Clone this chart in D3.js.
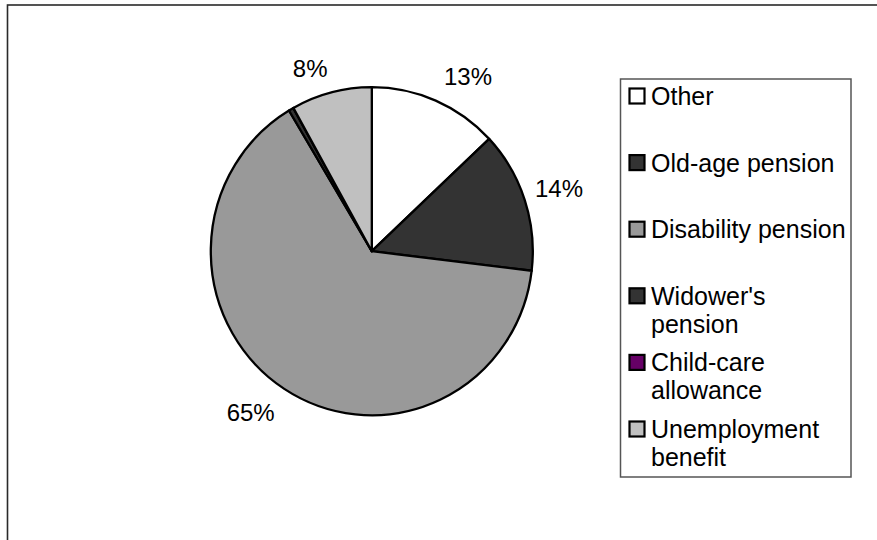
<!DOCTYPE html>
<html>
<head>
<meta charset="utf-8">
<script src="https://cdn.jsdelivr.net/npm/d3@7/dist/d3.min.js"></script>
<style>
  html, body { margin: 0; padding: 0; background: #fff; }
  svg { display: block; font-family: "Liberation Sans", Arial, sans-serif; }
</style>
</head>
<body>
<svg id="chart" width="877" height="540"></svg>
<script>
// Benefit categories, their shares (%) and slice fills
const categories = ["Other", "Old-age pension", "Disability pension", "Widower's pension", "Child-care allowance", "Unemployment benefit"];
const legendLines = [["Other"], ["Old-age pension"], ["Disability pension"], ["Widower's", "pension"], ["Child-care", "allowance"], ["Unemployment", "benefit"]];
const shares = [13.0, 13.9, 64.5, 0.5, 0.0, 8.1];
const fills = ["#ffffff", "#333333", "#999999", "#333333", "#660066", "#c0c0c0"];
// Percent labels shown next to the slices (empty = no label)
const labelText = ["13%", "14%", "65%", "", "", "8%"];

const svg = d3.select("#chart");
const W = 877, H = 540;

// chart area frame (runs off the right and bottom edges)
svg.append("rect")
  .attr("x", 7.5).attr("y", 5)
  .attr("width", W + 20).attr("height", H + 20)
  .attr("fill", "#fff")
  .attr("stroke", "#2a2a2a").attr("stroke-width", 1.6);

const cx = 371.8, cy = 251.2, r = 161;
const yStretch = 1.019;

const data = categories.map((c, i) => ({ name: c, value: shares[i], fill: fills[i], label: labelText[i], lines: legendLines[i] }));

const pie = d3.pie().value(d => d.value).sort(null);
const arcs = pie(data);
const arc = d3.arc().innerRadius(0).outerRadius(r);

const g = svg.append("g").attr("transform", `translate(${cx},${cy}) scale(1,${yStretch})`);
g.selectAll("path.slice")
  .data(arcs)
  .join("path")
  .attr("class", "slice")
  .attr("d", arc)
  .attr("fill", d => d.data.fill)
  .attr("stroke", "#000")
  .attr("stroke-width", 2.3)
  .attr("stroke-linejoin", "round");

// outside-end percent labels
const labelR = 197;
const labelNudge = { "Other": [18, 10], "Old-age pension": [0, 0], "Disability pension": [-14, -7], "Unemployment benefit": [-12, 12] };
const labelArc = d3.arc().innerRadius(labelR).outerRadius(labelR);
svg.append("g").selectAll("text.pct")
  .data(arcs.filter(d => d.data.label))
  .join("text")
  .attr("class", "pct")
  .attr("x", d => cx + labelArc.centroid(d)[0] + (labelNudge[d.data.name] || [0, 0])[0])
  .attr("y", d => cy + labelArc.centroid(d)[1] * yStretch + (labelNudge[d.data.name] || [0, 0])[1])
  .attr("text-anchor", "middle")
  .attr("dominant-baseline", "central")
  .attr("font-size", 24)
  .attr("fill", "#000")
  .text(d => d.data.label);

// legend
const lg = { x: 620.5, y: 79, w: 230.5, h: 398 };
svg.append("rect")
  .attr("x", lg.x).attr("y", lg.y)
  .attr("width", lg.w).attr("height", lg.h)
  .attr("fill", "#fff")
  .attr("stroke", "#555").attr("stroke-width", 1.5);

const rowY = d3.scaleLinear().domain([0, data.length - 1]).range([96, 429]);
const lineH = 28, fs = 25, capH = fs * 0.716;
const items = svg.append("g").selectAll("g.item")
  .data(data)
  .join("g")
  .attr("class", "item")
  .attr("transform", (d, i) => `translate(0,${rowY(i)})`);

items.append("rect")
  .attr("x", 629.5).attr("y", -7.5)
  .attr("width", 15).attr("height", 15)
  .attr("fill", d => d.fill)
  .attr("stroke", "#000").attr("stroke-width", 2.2);

items.append("text")
  .attr("x", 651)
  .attr("y", capH / 2)
  .attr("font-size", fs)
  .attr("fill", "#000")
  .selectAll("tspan")
  .data(d => d.lines)
  .join("tspan")
  .attr("x", 651)
  .attr("dy", (t, j) => j === 0 ? 0 : lineH)
  .text(t => t);
</script>
</body>
</html>
